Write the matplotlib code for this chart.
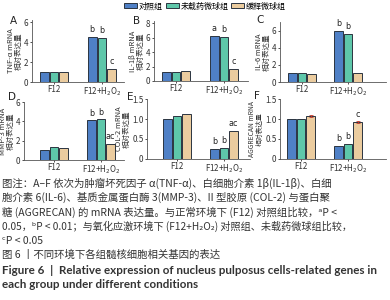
import matplotlib
matplotlib.use("Agg")
import matplotlib.pyplot as plt
from matplotlib.patches import Patch

plt.rcParams['font.family'] = ['Noto Sans CJK SC', 'DejaVu Sans']
plt.rcParams['axes.unicode_minus'] = False

# data
groups = ["对照组", "未载药微球组", "缓释微球组"]
conditions = ["F12", "F12+H$_2$O$_2$"]
panels = ["A", "B", "C", "D", "E", "F"]
genes = ["TNF-α", "IL-1β", "IL-6", "MMP-3", "COL-2", "AGGRECAN"]

tnf = [[1.0, 1.0, 1.0], [4.5, 4.4, 1.3]]
il1b = [[1.2, 1.25, 1.35], [6.2, 6.1, 1.7]]
il6 = [[1.0, 1.05, 0.95], [6.0, 5.6, 1.1]]
mmp3 = [[1.0, 1.3, 1.25], [4.1, 4.2, 1.65]]
col2 = [[1.0, 1.08, 1.12], [0.25, 0.27, 0.7]]
aggrecan = [[1.0, 1.0, 1.08], [0.32, 0.37, 0.93]]
values = [tnf, il1b, il6, mmp3, col2, aggrecan]

sig_tnf = ["b", "b", "c"]
sig_il1b = ["a", "b", "c"]
sig_il6 = ["b", "b", ""]
sig_mmp3 = ["b", "b", "ac"]
sig_col2 = ["b", "b", "ac"]
sig_aggrecan = ["b", "b", "c"]
sig = [sig_tnf, sig_il1b, sig_il6, sig_mmp3, sig_col2, sig_aggrecan]

colors = ["#4f80c6", "#5ec7aa", "#ebcc9f"]

W, H = 390, 300

# axes boxes in pixels: left, right, top, bottom, ymax, ticks, group centres px
boxes = [
    (32, 124, 20, 82, 6.2, [0, 2, 4, 6], (54, 102)),
    (154, 248, 21, 81, 8.3, [0, 2, 4, 6, 8], (176, 224)),
    (280, 386, 22, 82, 7.0, [0, 2, 4, 6], (302, 348)),
    (24, 124, 102, 160, 6.0, [0, 2, 4, 6], (54, 101)),
    (147, 250, 99, 159, 1.5, [0, 0.5, 1.0, 1.5], (177, 224)),
    (280, 386, 99, 159, 1.5, [0, 0.5, 1.0, 1.5], (301, 348)),
]
letter_pos = [(13, 21), (137, 21), (260, 20), (12, 97), (130, 97), (257, 96)]
ylab_size = [5.4, 5.4, 5.4, 5.4, 5.4, 4.9]

fig = plt.figure(figsize=(3.9, 3.0), dpi=100)

for i in range(6):
    l, r, t, b, ymax, ticks, (c1, c2) = boxes[i]
    ax = fig.add_axes([l / W, 1 - b / H, (r - l) / W, (b - t) / H])
    ppu = c2 - c1
    ax.set_xlim(-(c1 - l) / ppu, 1 + (r - c2) / ppu)
    ax.set_ylim(0, ymax)
    for g in range(3):
        xs = [k + (g - 1) * 0.205 for k in range(2)]
        hs = [values[i][k][g] for k in range(2)]
        ax.bar(xs, hs, width=0.185, color=colors[g], edgecolor="#2b3440", linewidth=0.7, zorder=2)
        if i == 5 and g == 2:
            ax.errorbar(xs, hs, yerr=[0.02, 0.02], fmt="none", ecolor="#c0392b",
                        elinewidth=0.6, capsize=1.2, capthick=0.6, zorder=3)
        lab = sig[i][g]
        if lab:
            ax.annotate(lab, (xs[1], hs[1]), xytext=(0, 2), textcoords="offset points",
                        ha="center", va="bottom", fontsize=5.8, color="#222222",
                        family="DejaVu Sans")
    ax.set_yticks(ticks)
    if ymax < 2:
        ax.set_yticklabels(["0", "0.5", "1.0", "1.5"])
    ax.set_xticks([0, 1])
    ax.set_xticklabels(conditions)
    ax.tick_params(labelsize=5.8, length=1.5, width=0.6, pad=1, colors="#333333")
    for s in ["top", "right"]:
        ax.spines[s].set_visible(False)
    for s in ["left", "bottom"]:
        ax.spines[s].set_linewidth(0.6)
        ax.spines[s].set_color("#555555")
    ax.set_ylabel(genes[i] + " mRNA\n相对表达量", fontsize=ylab_size[i], labelpad=1,
                  linespacing=0.95, color="#333333")
    fig.text(letter_pos[i][0] / W, 1 - letter_pos[i][1] / H, panels[i],
             fontsize=7.5, ha="center", va="center", color="#222222", family="DejaVu Sans")

handles = [Patch(facecolor=c, edgecolor="#2b3440", linewidth=0.7) for c in colors]
fig.legend(handles, groups, loc="center left", bbox_to_anchor=(124 / W, 1 - 6 / H), ncol=3,
           frameon=False, fontsize=5.8, handlelength=1.6, handleheight=0.6,
           handletextpad=0.2, columnspacing=0.4, borderaxespad=0, borderpad=0)

caption = [
    "图注：A–F 依次为肿瘤坏死因子 α(TNF-α)、白细胞介素 1β(IL-1β)、白细",
    "胞介素 6(IL-6)、基质金属蛋白酶 3(MMP-3)、II 型胶原 (COL-2) 与蛋白聚",
    "糖 (AGGRECAN) 的 mRNA 表达量。与正常环境下 (F12) 对照组比较，ᵃP <",
    "0.05，ᵇP < 0.01；与氧化应激环境下 (F12+H₂O₂) 对照组、未载药微球组比较，",
    "ᶜP < 0.05",
    "图 6 丨不同环境下各组髓核细胞相关基因的表达",
]
cap_y = [183, 197, 212, 226, 241, 255]
cap_size = [7.5, 7.5, 7.5, 7.3, 7.5, 7.5]
for line, y, fs in zip(caption, cap_y, cap_size):
    fig.text(2 / W, 1 - y / H, line, fontsize=fs, ha="left", va="center", color="#333333")

title_en = ["Figure 6  |  Relative expression of nucleus pulposus cells-related genes in",
            "each group under different conditions"]
for line, y in zip(title_en, [270, 284]):
    fig.text(2 / W, 1 - y / H, line, fontsize=8.4, ha="left", va="center",
             color="#333333", weight="bold", family=["Lato", "DejaVu Sans"])

fig.savefig("out.png", dpi=100)
